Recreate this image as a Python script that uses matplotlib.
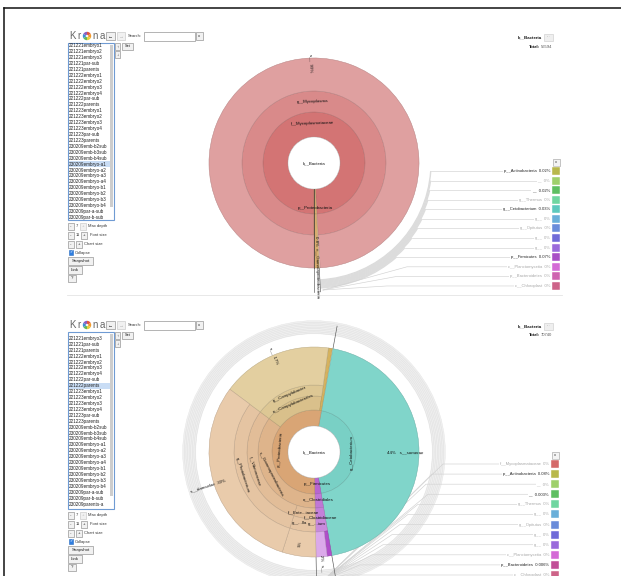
import numpy as np
import matplotlib
matplotlib.use("Agg")
import matplotlib.pyplot as plt
from matplotlib.patches import Wedge, Rectangle, Circle, Arc
from matplotlib.colors import to_rgb

plt.rcParams['font.family'] = ['Liberation Sans', 'DejaVu Sans']

# ---------------------------------------------------------------- data
datasets = ["221221embryo1", "221221embryo2", "221221embryo3", "221221par-sub",
            "221221parents", "221222embryo1", "221222embryo2", "221222embryo3",
            "221222embryo4", "221222par-sub", "221222parents", "221223embryo1",
            "221223embryo2", "221223embryo3", "221223embryo4", "221223par-sub",
            "221223parents", "230209emb-b2sub", "230209emb-b3sub", "230209emb-b4sub",
            "230209embryo-a1", "230209embryo-a2", "230209embryo-a3", "230209embryo-a4",
            "230209embryo-b1", "230209embryo-b2", "230209embryo-b3", "230209embryo-b4",
            "230209par-a-sub", "230209par-b-sub", "230209parents-a", "230209parents-b"]

# upper view: 230209embryo-a1
top_selected = "230209embryo-a1"
top_total = 56594
top_ring_names = [["f__Mycoplasmataceae", "", "p__Proteobacteria"],
                  ["g__Mycoplasma", "", "c__Gammaproteobacteria"],
                  ["s__", "", ""]]
top_ring_pct = [[99.06, 0.14, 0.8],
                [99.06, 0.14, 0.8],
                [99.06, 0.14, 0.8]]
top_key_names = ["p__Actinobacteria", "__", "__", "g__Thermus", "g__Cetobacterium",
                 "g__", "g__Opitutus", "g__", "g__", "p__Firmicutes",
                 "c__Planctomycetia", "p__Bacteroidetes", "c__Chloroplast"]
top_key_pct = [0.02, 0, 0.02, 0, 0.03, 0, 0, 0, 0, 0.07, 0, 0, 0]

# lower view: 221222parents
bottom_selected = "221222parents"
bottom_total = 70740
bottom_ring_names = [
    ["g__Cetobacterium", "p__Firmicutes", "p__Proteobacteria", ""],
    ["s__somerae", "o__Clostridiales", "c__Gammaproteobacteria", "o__Campylobacterales", "", ""],
    ["", "f__Clostridiaceae", "f__Ente...iaceae", "f__Vibrionaceae", "g__Campylobacter", ""],
    ["", "g__...ium", "g__...lla", "g__Photobacterium", "s__", ""],
    ["", "", "s__", "", "s__damselae", ""],
]
bottom_ring_pct = [
    [44.4, 2.4, 53.1, 0.1],
    [44.4, 2.4, 35.5, 17.0, 0.6, 0.1],
    [44.4, 2.4, 5.2, 30.3, 17.0, 0.7],
    [44.4, 2.4, 5.2, 30.3, 17.0, 0.7],
    [44.4, 0.7, 1.7, 5.2, 30.3, 17.7],
]
bottom_key_names = ["f__Mycoplasmataceae", "p__Actinobacteria", "__", "__", "g__Thermus",
                    "g__", "g__Opitutus", "g__", "g__", "c__Planctomycetia",
                    "p__Bacteroidetes", "c__Chloroplast"]
bottom_key_pct = [0, 0.08, 0, 0.003, 0, 0, 0, 0, 0, 0, 0.006, 0]

# ---------------------------------------------------------------- styles
top_ring_colors = [["#d37474", None, "#d8ad6f"],
                   ["#d98a8a", None, "#d8ad6f"],
                   ["#dfa0a0", None, None]]
top_ring_span = [[1, 1, 1], [1, 1, 2], [1, 1, 1]]
top_key_colors = ["#b8b84c", "#9fd06c", "#5fbf62", "#70d6a0", "#5ec9bd", "#6aafd9",
                  "#6a8cda", "#706bd8", "#9a6bdb", "#a84ec6", "#d46bd6", "#cf64b0",
                  "#cd6489"]

bottom_ring_colors = [
    ["#79d0c5", "#b866d0", "#d9a575", None],
    ["#80d5ca", "#c077d6", "#deb48b", "#d9c08b", "#d5b25e", None],
    [None, "#c480d9", "#e2bd98", "#e2bd98", "#ddc794", None],
    [None, "#c98adc", "#e5c4a2", "#e5c4a2", "#e3cfa0", None],
    [None, "#b04fc9", "#dba9ea", "#e9cbab", "#e9cbab", None],
]
bottom_ring_span = [
    [1, 1, 1, 1],
    [4, 1, 1, 1, 4, 1],
    [1, 1, 1, 1, 1, 1],
    [1, 1, 1, 1, 2, 1],
    [1, 1, 1, 1, 1, 1],
]
bottom_key_colors = ["#d46a6a", "#b8b84c", "#9fd06c", "#5fbf62", "#70d6a0", "#6aafd9",
                     "#6a8cda", "#706bd8", "#9a6bdb", "#d46bd6", "#c24f98", "#cd6489"]

W, H = 621, 576
fig = plt.figure(figsize=(W / 100, H / 100), dpi=100)
ax = fig.add_axes([0, 0, 1, 1])
ax.set_xlim(0, W)
ax.set_ylim(H, 0)
ax.set_axis_off()

FS = 3.2  # base label size (pt)


def darker(c, f=0.85):
    r, g, b = to_rgb(c)
    return (r * f, g * f, b * f)


def polar(cx, cy, r, phi):
    t = np.radians(phi)
    return cx + r * np.cos(t), cy + r * np.sin(t)


def upright(a):
    a = (a + 180) % 360 - 180
    if a > 90:
        a -= 180
    elif a <= -90:
        a += 180
    return a


def draw_sunburst(cx, cy, radii, phi0, pcts, colors, spans):
    """Draw ring segments; returns geometry (a1, a2, r_in, r_out) per segment."""
    geo = []
    for li, ring in enumerate(pcts):
        cum = 0.0
        g = []
        for si, p in enumerate(ring):
            a1 = phi0 + cum * 3.6
            a2 = a1 + p * 3.6
            rin = radii[li]
            rout = radii[min(li + spans[li][si], len(radii) - 1)]
            col = colors[li][si]
            if col is not None:
                ax.add_patch(Wedge((cx, cy), rout, a1, a2, width=rout - rin,
                                   fc=col, ec=darker(col, 0.82), lw=0.35, zorder=4))
            g.append((a1, a2, rin, rout))
            cum += p
        geo.append(g)
    ax.add_patch(Circle((cx, cy), radii[0], fc="white", ec=darker("#dddddd"), lw=0.3, zorder=5))
    return geo


def seg_label(cx, cy, geo, li, si, text, mode, r, fs=FS, dx=0, dy=0):
    a1, a2, rin, rout = geo[li][si]
    mid = (a1 + a2) / 2
    x, y = polar(cx, cy, r, mid)
    if mode == "tan":
        rot = upright(-(mid + 90))
    elif mode == "rad":
        rot = upright(-mid)
    else:
        rot = 0
    ax.text(x + dx, y + dy, text, fontsize=fs, rotation=rot, rotation_mode="anchor",
            ha="center", va="center", color="#111", zorder=8)


def pct_text(v):
    return f"{v:g}%"


def draw_key(rows_y, names, vals, colors, label_x, sw_x, box_y):
    ax.add_patch(Rectangle((sw_x + 0.5, box_y - 3.5), 7, 7, fc="#f4f4f4", ec="#9a9a9a", lw=0.4, zorder=6))
    ax.text(sw_x + 4, box_y, "x", fontsize=3, ha="center", va="center", color="#333", zorder=7)
    for y, n, v, c in zip(rows_y, names, vals, colors):
        ax.add_patch(Rectangle((sw_x, y - 4), 7.5, 8, fc=c, ec="#ffffff", lw=0.3, zorder=6))
        col = "#222222" if v > 0 else "#a8a8a8"
        ax.text(label_x, y, f"{n}  {pct_text(v)}", fontsize=3.0, ha="right", va="center",
                color=col, zorder=7,
                bbox=dict(fc="white", ec="none", pad=0.6))


def button(x0, y0, x1, y1, label="", fs=3.2, tc="#222", fc="#f1f1f1", ec="#8c8c8c"):
    ax.add_patch(Rectangle((x0, y0), x1 - x0, y1 - y0, fc=fc, ec=ec, lw=0.45, zorder=6))
    if label:
        ax.text((x0 + x1) / 2, (y0 + y1) / 2 + 0.2, label, ha="center", va="center",
                fontsize=fs, color=tc, zorder=7)


def krona_logo(x, y):
    ax.text(x, y, "K", fontsize=7, color="#666", ha="left", va="center", zorder=7)
    ax.text(x + 8, y, "r", fontsize=7, color="#666", ha="left", va="center", zorder=7)
    cols = ["#e2553f", "#f29a2e", "#e8cf3c", "#63b85a", "#3f8fd2", "#8b5cc0"]
    for i, c in enumerate(cols):
        ax.add_patch(Wedge((x + 17.5, y), 4.2, i * 60 - 90, (i + 1) * 60 - 90, fc=c, ec="none", zorder=7))
    ax.add_patch(Circle((x + 17.5, y), 1.2, fc="#f5f5f5", ec="none", zorder=8))
    ax.text(x + 23, y, "n", fontsize=7, color="#666", ha="left", va="center", zorder=7)
    ax.text(x + 30, y, "a", fontsize=7, color="#666", ha="left", va="center", zorder=7)


def left_panel(oy, selected, first_y):
    krona_logo(69.5, 36 + oy)
    button(106, 32 + oy, 115, 40 + oy, "\u2190", fs=3.6)
    button(117, 32 + oy, 125, 40 + oy, "\u2192", fs=3.6, tc="#bbb", ec="#c8c8c8")
    ax.text(128, 36 + oy, "Search:", fontsize=3.0, ha="left", va="center", color="#333", zorder=7)
    ax.add_patch(Rectangle((144, 31.5 + oy), 51, 9, fc="white", ec="#8a8a8a", lw=0.45, zorder=6))
    button(196, 32 + oy, 203, 40 + oy, "x", fs=3.0)
    # dataset list
    top, bot = 43 + oy, 220 + oy
    ax.add_patch(Rectangle((68, top), 45.5, bot - top, fc="white", ec="#6f9bd3", lw=0.8, zorder=6))
    step = 5.92
    for i, name in enumerate(datasets):
        y = first_y + i * step
        if y < top + 2.2 or y > bot - 2.2:
            continue
        if name == selected:
            ax.add_patch(Rectangle((68.6, y - step / 2), 41, step, fc="#c9ddf5", ec="none", zorder=6.5))
        ax.text(68.8, y, name, fontsize=3.35, ha="left", va="center", color="#222", zorder=7)
    ax.add_patch(Rectangle((110, 45 + oy), 2.6, 162, fc="#cdcdcd", ec="none", zorder=7))
    button(114.5, 43 + oy, 120, 49.5 + oy, "\u2191", fs=3.2)
    button(122, 43 + oy, 133, 49.5 + oy, "Set", fs=2.8)
    button(114.5, 51 + oy, 120, 57.5 + oy, "\u2193", fs=3.2)
    # controls below the list
    button(68, 222.5 + oy, 74, 229.5 + oy, "-", fs=3.2)
    ax.text(76, 226 + oy, "7", fontsize=3.0, ha="left", va="center", color="#333", zorder=7)
    button(80, 222.5 + oy, 86, 229.5 + oy, "+", fs=3.2, tc="#bbb", ec="#c8c8c8")
    ax.text(88, 226 + oy, "Max depth", fontsize=3.0, ha="left", va="center", color="#333", zorder=7)
    button(68, 231.5 + oy, 74, 238.5 + oy, "-", fs=3.2)
    ax.text(75.5, 235 + oy, "11", fontsize=3.0, ha="left", va="center", color="#333", zorder=7)
    button(81, 231.5 + oy, 87, 238.5 + oy, "+", fs=3.2)
    ax.text(89.5, 235 + oy, "Font size", fontsize=3.0, ha="left", va="center", color="#333", zorder=7)
    button(68, 240.5 + oy, 74, 247.5 + oy, "-", fs=3.2)
    button(76, 240.5 + oy, 82, 247.5 + oy, "+", fs=3.2)
    ax.text(84.5, 244 + oy, "Chart size", fontsize=3.0, ha="left", va="center", color="#333", zorder=7)
    ax.add_patch(Rectangle((68.5, 250.3 + oy), 4.5, 4.5, fc="#2f7ee0", ec="#2a6cc0", lw=0.4, zorder=7))
    ax.text(70.75, 252.6 + oy, "\u2713", fontsize=3.0, ha="center", va="center", color="white", zorder=8)
    ax.text(74.5, 253 + oy, "Collapse", fontsize=3.0, ha="left", va="center", color="#333", zorder=7)
    button(68, 257 + oy, 93, 265 + oy, "Snapshot", fs=3.2)
    button(68, 265.8 + oy, 82, 273.5 + oy, "Link", fs=3.2)
    button(68, 274.5 + oy, 76, 282 + oy, "?", fs=3.2)


def header(oy, total):
    ax.text(541.5, 37.5 + oy, "k__Bacteria", fontsize=3.2, fontweight="bold", ha="right",
            va="center", color="#111", zorder=7)
    button(544, 34 + oy, 552.5, 41 + oy, "\u00b7\u00b7\u00b7", fs=2.6, tc="#888", fc="#efefef", ec="#cfcfcf")
    ax.text(552.5, 46.5 + oy, str(total), fontsize=3.0, ha="right", va="center", color="#555", zorder=7)
    ax.text(539.5, 46.5 + oy, "Total:", fontsize=3.0, fontweight="bold", ha="right", va="center",
            color="#111", zorder=7)


# ---------------------------------------------------------------- page frame
ax.plot([3.5, 621], [8.3, 8.3], color="#111", lw=1.1, zorder=10)
ax.plot([3.5, 3.5], [8.3, 576], color="#111", lw=1.1, zorder=10)
ax.plot([67, 562], [294.5, 294.5], color="#e4e4e4", lw=0.6, zorder=2)

# ================================================================ upper view
tcx, tcy = 314, 163
left_panel(0, top_selected, 45.7)
header(0, top_total)
top_geo = draw_sunburst(tcx, tcy, [26, 51, 72, 105], 90, top_ring_pct, top_ring_colors, top_ring_span)

# key lines of the small taxa
top_rows = [171 + 9.58 * i for i in range(len(top_key_names))]
a_start = 87.0
for i, y in enumerate(top_rows):
    if i < 10:
        R = 117 + 0.9 * i
        th = np.degrees(np.arcsin((y - tcy) / R))
        ax.add_patch(Arc((tcx, tcy), 2 * R, 2 * R, theta1=th, theta2=a_start,
                         color="#dcdcdc", lw=1.0, zorder=2))
        ex, ey = polar(tcx, tcy, R, th)
        kx = ex + 3
        ax.plot([ex, kx, 548], [ey, y, y], color="#d2d2d2", lw=0.45, zorder=2)
    else:
        kx = [407, 397, 387][i - 10]
        ax.plot([323, kx, 548], [290, y, y], color="#d2d2d2", lw=0.45, zorder=2)
draw_key(top_rows, top_key_names, top_key_pct, top_key_colors, 550, 552, 162)

for a in (top_geo[0][2][0], top_geo[0][2][1]):
    x0, y0 = polar(tcx, tcy, 105, a)
    x1, y1 = polar(tcx, tcy, 129, a)
    ax.plot([x0, x1], [y0, y1], color="#555", lw=0.45, zorder=3)
ax.plot(*zip(polar(tcx, tcy, 26, 90), polar(tcx, tcy, 105, 90)), color="#333", lw=0.5, zorder=6)

ax.text(tcx, tcy, "k__Bacteria", fontsize=FS, ha="center", va="center", color="#111", zorder=8)
seg_label(tcx, tcy, top_geo, 0, 0, top_ring_names[0][0], "tan", 40)
seg_label(tcx, tcy, top_geo, 1, 0, top_ring_names[1][0], "tan", 61)
seg_label(tcx, tcy, top_geo, 2, 0, f"{top_ring_names[2][0]}  {top_ring_pct[2][0]:.0f}%", "rad", 100)
seg_label(tcx, tcy, top_geo, 0, 2, top_ring_names[0][2], "hor", 45)
seg_label(tcx, tcy, top_geo, 1, 2, f"{top_ring_pct[1][2]:g}%  {top_ring_names[1][2]}", "rad", 104)

# ================================================================ lower view
bcx, bcy = 314, 452
left_panel(289, bottom_selected, 326.5)
header(289, bottom_total)

# outer grey band of key paths
ax.add_patch(Wedge((bcx, bcy), 131, 0, 360, width=13, fc="#efefef", ec="none", zorder=1))
for rr in np.arange(118.5, 131.5, 1.6):
    ax.add_patch(Circle((bcx, bcy), rr, fc="none", ec="#dedede", lw=0.3, zorder=1.5))

bottom_rows = [464 + 10.09 * i for i in range(len(bottom_key_names))]
knees = [443, 432, 426, 428, 418, 408, 400, 392, 383, 372, 360, 345]
for y, kx in zip(bottom_rows, knees):
    ax.plot([324, kx, 548], [580, y, y], color="#d2d2d2", lw=0.45, zorder=2)

bottom_geo = draw_sunburst(bcx, bcy, [26, 42, 56, 67, 80, 105], -79.6,
                           bottom_ring_pct, bottom_ring_colors, bottom_ring_span)
draw_key(bottom_rows, bottom_key_names, bottom_key_pct, bottom_key_colors, 549, 551, 455)

for a, r1 in ((bottom_geo[0][0][0], 128), (bottom_geo[0][1][0], 131), (bottom_geo[0][1][1], 131)):
    x0, y0 = polar(bcx, bcy, 105, a)
    x1, y1 = polar(bcx, bcy, r1, a)
    ax.plot([x0, x1], [y0, y1], color="#555", lw=0.45, zorder=3)

ax.text(bcx, bcy, "k__Bacteria", fontsize=FS, ha="center", va="center", color="#111", zorder=8)
bn, bp = bottom_ring_names, bottom_ring_pct
seg_label(bcx, bcy, bottom_geo, 0, 0, bn[0][0], "tan", 38)
seg_label(bcx, bcy, bottom_geo, 1, 0, f"{bp[1][0]:.0f}%   {bn[1][0]}", "rad", 91)
seg_label(bcx, bcy, bottom_geo, 0, 1, bn[0][1], "hor", 32)
seg_label(bcx, bcy, bottom_geo, 1, 1, bn[1][1], "hor", 48)
seg_label(bcx, bcy, bottom_geo, 2, 1, bn[2][1], "hor", 66)
seg_label(bcx, bcy, bottom_geo, 3, 1, bn[3][1], "hor", 72, dx=-4)
seg_label(bcx, bcy, bottom_geo, 4, 2, f"{bp[4][2]:.0f}%   {bn[4][2]}", "rad", 112)
seg_label(bcx, bcy, bottom_geo, 0, 2, bn[0][2], "tan", 34)
seg_label(bcx, bcy, bottom_geo, 1, 2, bn[1][2], "tan", 48)
seg_label(bcx, bcy, bottom_geo, 2, 2, bn[2][2], "hor", 61, dx=-2)
seg_label(bcx, bcy, bottom_geo, 3, 2, bn[3][2], "hor", 72, dx=-4)
seg_label(bcx, bcy, bottom_geo, 3, 2, f"{bp[3][2]:.0f}%", "rad", 93)
seg_label(bcx, bcy, bottom_geo, 2, 3, bn[2][3], "tan", 62)
seg_label(bcx, bcy, bottom_geo, 3, 3, bn[3][3], "tan", 75)
seg_label(bcx, bcy, bottom_geo, 4, 4, f"{bn[4][4]}  {bp[4][4]:.0f}%", "rad", 111)
seg_label(bcx, bcy, bottom_geo, 1, 3, bn[1][3], "tan", 52)
seg_label(bcx, bcy, bottom_geo, 2, 4, bn[2][4], "tan", 63)
seg_label(bcx, bcy, bottom_geo, 3, 4, f"{bn[3][4]}  {bp[3][4]:.0f}%", "rad", 104)

fig.savefig("out.png", dpi=100, facecolor="white")
